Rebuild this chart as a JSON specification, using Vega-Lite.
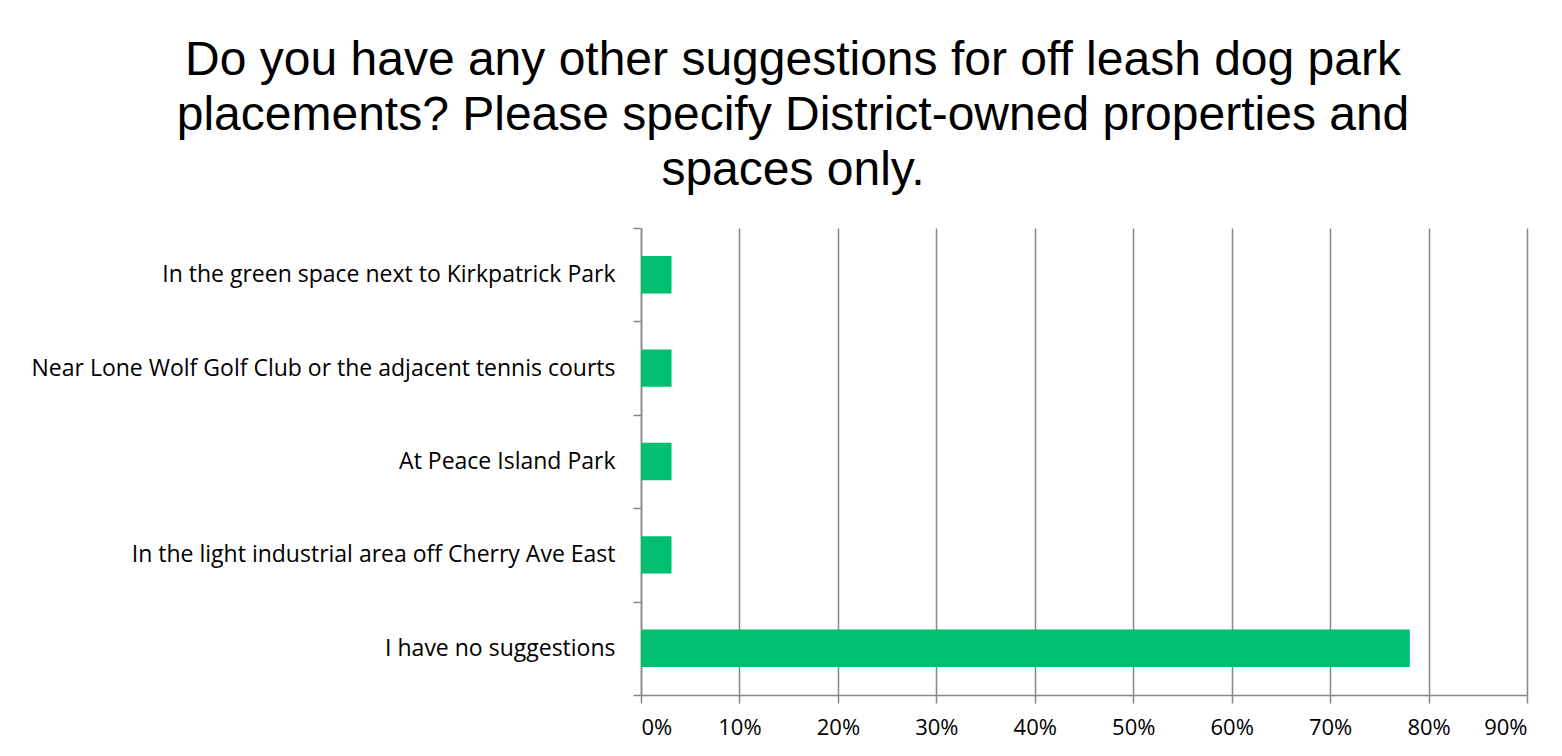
{
  "$schema": "https://vega.github.io/schema/vega-lite/v6.json",
  "autosize": "none",
  "width": 886,
  "height": 467,
  "padding": {"left": 641, "top": 228, "right": 35, "bottom": 61},
  "background": "white",
  "title": {
    "text": ["Do you have any other suggestions for off leash dog park", "placements? Please specify District-owned properties and", "spaces only."],
    "anchor": "middle",
    "frame": "group",
    "dx": -291,
    "offset": 22,
    "font": "Liberation Sans",
    "fontSize": 48,
    "fontWeight": "normal",
    "color": "#000000",
    "lineHeight": 55
  },
  "data": {
    "values": [
      {"answer": "In the green space next to Kirkpatrick Park", "pct": 0.031},
      {"answer": "Near Lone Wolf Golf Club or the adjacent tennis courts", "pct": 0.031},
      {"answer": "At Peace Island Park", "pct": 0.031},
      {"answer": "In the light industrial area off Cherry Ave East", "pct": 0.031},
      {"answer": "I have no suggestions", "pct": 0.781}
    ]
  },
  "mark": {"type": "bar", "color": "#00BF6F", "height": {"band": 0.4}},
  "encoding": {
    "y": {
      "field": "answer",
      "type": "nominal",
      "sort": null,
      "title": null,
      "scale": {"paddingInner": 0, "paddingOuter": 0},
      "axis": {
        "tickBand": "extent",
        "domainColor": "#878787",
        "domainWidth": 1.5,
        "tickColor": "#878787",
        "tickWidth": 1.5,
        "tickSize": 8,
        "labelPadding": 18,
        "labelFont": "Open Sans",
        "labelFontSize": 23,
        "labelColor": "#000000",
        "labelLimit": 700,
        "grid": false
      }
    },
    "x": {
      "field": "pct",
      "type": "quantitative",
      "title": null,
      "scale": {"domain": [0, 0.9], "nice": false},
      "axis": {
        "values": [0, 0.1, 0.2, 0.3, 0.4, 0.5, 0.6, 0.7, 0.8, 0.9],
        "format": ".0%",
        "grid": true,
        "gridColor": "#878787",
        "gridWidth": 1.5,
        "domainColor": "#878787",
        "domainWidth": 1.5,
        "tickColor": "#878787",
        "tickWidth": 1.5,
        "tickSize": 8,
        "labelPadding": 14,
        "labelFont": "Open Sans",
        "labelFontSize": 22,
        "labelColor": "#000000"
      }
    }
  },
  "config": {"view": {"stroke": null}}
}
